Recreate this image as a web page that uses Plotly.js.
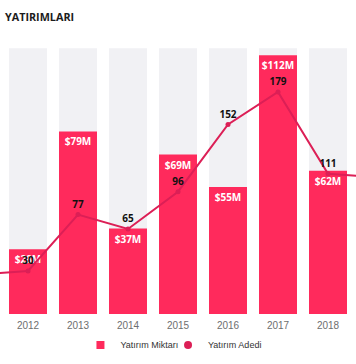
<!DOCTYPE html>
<html><head><meta charset="utf-8">
<script src="https://cdn.plot.ly/plotly-3.0.1.min.js"></script>
<style>html,body{margin:0;padding:0;background:#fff}#chart{width:356px;height:364px}</style>
</head><body><div id="chart"></div>
<script>
const years = [2011, 2012, 2013, 2014, 2015, 2016, 2017, 2018, 2019];
const amounts = [null, 28, 79, 37, 69, 55, 112, 62, null];
const counts = [27, 30, 77, 65, 96, 152, 179, 111, 108];
const countLabels = ['', '30', '77', '65', '96', '152', '179', '111', ''];
const trackMax = [null, 115, 115, 115, 115, 115, 115, 115, null];
const tickYears = [2012, 2013, 2014, 2015, 2016, 2017, 2018];
const amountName = 'Yatırım Miktarı';
const countName = 'Yatırım Adedi';
const chartTitle = 'YATIRIMLARI';

const pink = '#ff2a5c';
const lineCol = '#dc1f56';

const data = [
  {type: 'bar', x: years, y: trackMax, marker: {color: '#f1f1f4'},
   hoverinfo: 'skip', showlegend: false},
  {type: 'bar', x: years, y: amounts, marker: {color: pink}, name: amountName,
   texttemplate: '$%{y}M', textposition: 'inside', insidetextanchor: 'end',
   textangle: 0, constraintext: 'none',
   textfont: {family: 'Open Sans', size: 10, color: '#ffffff', weight: 'bold'},
   showlegend: false},
  {type: 'scatter', x: years, y: counts, yaxis: 'y2', mode: 'lines+markers+text',
   text: countLabels, textposition: 'top center',
   textfont: {family: 'Open Sans', size: 10, color: '#111111', weight: 'bold'},
   line: {color: lineCol, width: 2}, marker: {color: lineCol, size: 5},
   name: countName, showlegend: false},
  {type: 'scatter', x: [null], y: [null], mode: 'markers', name: amountName,
   legend: 'legend', marker: {symbol: 'square', size: 8, color: pink}},
  {type: 'scatter', x: [null], y: [null], mode: 'markers', name: countName,
   legend: 'legend2', marker: {symbol: 'circle', size: 8, color: lineCol}}
];

const legendFont = {family: 'Liberation Sans', size: 9, color: '#333333'};
const layout = {
  width: 356, height: 364,
  margin: {l: 0, r: 0, t: 40, b: 50},
  paper_bgcolor: '#ffffff', plot_bgcolor: '#ffffff',
  barmode: 'overlay', bargap: 0.24,
  title: {text: chartTitle, x: 0.014, xanchor: 'left', xref: 'container',
          y: 0.953, yanchor: 'middle', yref: 'container',
          font: {family: 'Open Sans', size: 10.8, color: '#1c1c1c', weight: 'bold'}},
  xaxis: {type: 'linear', range: [2011.44, 2018.56], tickvals: tickYears,
          ticktext: tickYears.map(String), showgrid: false, zeroline: false,
          showline: false, ticks: '', ticklabelstandoff: 4,
          tickfont: {family: 'Liberation Sans', size: 10, color: '#6e6e6e'}},
  yaxis: {range: [0, 118.6], visible: false, showgrid: false, zeroline: false},
  yaxis2: {range: [-5.83, 222.3], overlaying: 'y', visible: false,
           showgrid: false, zeroline: false},
  showlegend: true,
  legend: {orientation: 'h', x: 0.226, xanchor: 'left', y: -0.06, yanchor: 'top',
           font: legendFont, itemwidth: 30, bgcolor: 'rgba(0,0,0,0)'},
  legend2: {orientation: 'h', x: 0.472, xanchor: 'left', y: -0.06, yanchor: 'top',
            font: legendFont, itemwidth: 30, bgcolor: 'rgba(0,0,0,0)'}
};

Plotly.newPlot('chart', data, layout, {displayModeBar: false, staticPlot: true});
</script>
</body></html>
